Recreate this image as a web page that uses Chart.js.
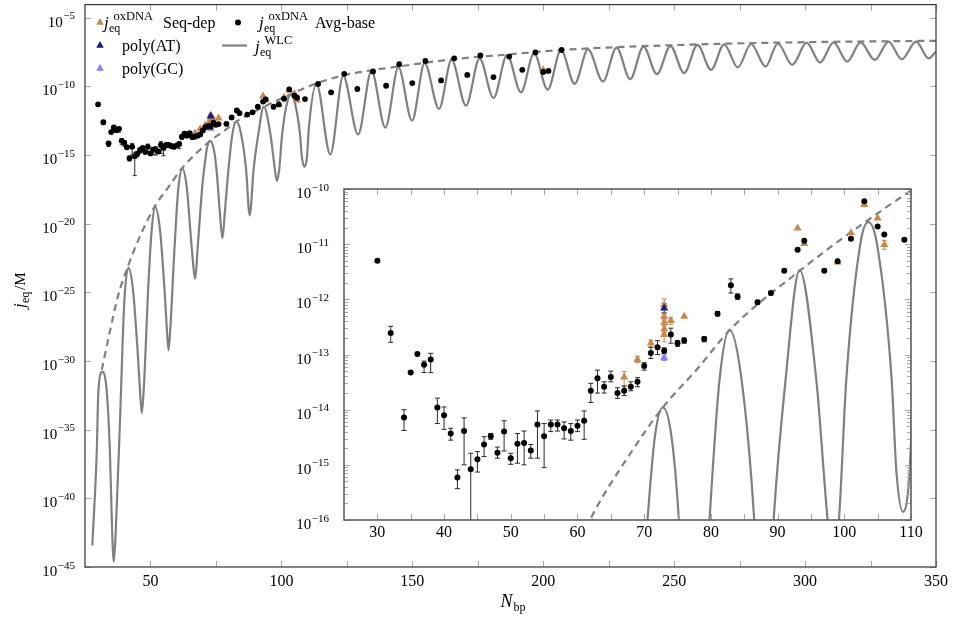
<!DOCTYPE html>
<html>
<head>
<meta charset="utf-8">
<script src="https://cdn.jsdelivr.net/npm/chart.js@4.4.1/dist/chart.umd.min.js"></script>
<style>
  body { margin: 0; background: #fff; }
  #wrap { position: relative; width: 953px; height: 619px; }
  #main { position: absolute; left: 0; top: 0; }
  #inset { position: absolute; left: 285px; top: 180px; }
</style>
</head>
<body>
<div id="wrap">
  <canvas id="main" width="953" height="619"></canvas>
  <canvas id="inset" width="645" height="370"></canvas>
</div>
<script>
// WLC prediction (peaks and troughs)
const wlcN = [27.8, 29.5, 30.1, 31.6, 33.3, 34.5, 35.4, 36.0, 36.7, 38.4, 40.0, 41.6, 43.4, 45.1, 46.1, 46.7, 47.4, 49.2, 50.5, 51.8,
  53.6, 55.5, 56.4, 56.9, 57.6, 59.1, 60.6, 62.2, 63.8, 65.7, 67.1, 68.0, 69.8, 70.5, 71.6, 72.8, 74.1, 75.2, 76.5, 77.5,
  78.4, 79.8, 81.3, 82.8, 84.6, 86.5, 87.9, 89.4, 91.2, 93.3, 95.8, 97.5, 98.3, 99.2, 100.3, 102.4, 103.6, 104.9, 107.1, 107.8,
  108.8, 109.8, 110.5, 113.4, 118.7, 123.6, 129.3, 134.4, 139.7, 144.7, 149.9, 154.7, 160.2, 165.0, 170.5, 175.7, 181.0, 186.2, 191.5, 196.5,
  201.7, 206.8, 212.0, 217.1, 222.8, 228.0, 233.2, 238.3, 243.4, 248.6, 253.8, 258.9, 264.1, 269.1, 274.3, 279.4, 284.9, 289.6, 295.1, 300.6,
  305.7, 310.9, 316.1, 321.2, 326.6, 331.9, 336.9, 342.4, 347.2, 350];
const wlcJ = [3.7e-44, 2.8e-37, 6.3e-33, 1.6e-31, 6.3e-33, 2.8e-37, 2.5e-43, 2.5e-45, 2.5e-43, 7.2e-35, 2.0e-26, 6.3e-24, 1.1e-25, 5.0e-30, 3.6e-33, 1.6e-34, 6.3e-33, 3.3e-25, 4.2e-21, 1.6e-19,
  4.2e-21, 6.3e-26, 7.9e-29, 6.3e-30, 2.5e-28, 8.5e-23, 3.2e-18, 1.0e-16, 5.8e-18, 2.6e-22, 1.0e-24, 1.5e-22, 5.8e-18, 1.0e-16, 3.2e-15, 1.1e-14, 3.2e-15, 1.0e-16, 6.8e-20, 8.9e-22,
  6.8e-20, 1.0e-16, 3.5e-14, 2.8e-13, 3.5e-14, 1.0e-16, 4.0e-20, 1.0e-16, 3.5e-14, 3.4e-12, 3.5e-14, 1.0e-16, 1.3e-17, 1.0e-16, 3.5e-14, 1.0e-11, 2.5e-11, 1.0e-11, 3.5e-14, 7.9e-16,
  1.4e-16, 7.9e-16, 1.0e-13, 1.5e-10, 1.1e-15, 5.9e-10, 3.2e-14, 1.35e-9, 1.0e-13, 2.4e-9, 3.2e-13, 4.9e-9, 2.3e-12, 8.5e-9, 4.0e-12, 1.1e-8, 1.45e-11, 1.95e-8, 3.7e-11, 2.6e-8,
  5.8e-11, 4.5e-8, 1.55e-10, 5.0e-8, 2.3e-10, 6.8e-8, 3.4e-10, 7.9e-8, 7.8e-10, 8.7e-8, 9.3e-10, 1.05e-7, 1.6e-9, 1.17e-7, 2.4e-9, 1.23e-7, 2.8e-9, 1.38e-7, 3.7e-9, 1.55e-7,
  5.5e-9, 1.62e-7, 6.5e-9, 1.62e-7, 8.5e-9, 1.82e-7, 9.5e-9, 1.82e-7, 1.1e-8, 3.5e-8];

// dashed envelope
const envN = [31.4, 34.5, 37.7, 41.6, 45.3, 51.8, 56.8, 62.2, 67.6, 72.8, 77.8, 83.1, 93.6, 103.1, 113.4, 123.6, 134.4, 144.7, 165, 186.2,
  206.8, 228, 248.6, 269.1, 289.6, 310.9, 331.9, 350];
const envJ = [2.3e-31, 1.4e-28, 6.3e-26, 1.0e-23, 6.0e-22, 2.0e-19, 4.4e-18, 1.2e-16, 1.4e-15, 1.1e-14, 5.2e-14, 3.0e-13, 3.5e-12, 2.5e-11, 1.66e-10, 6.3e-10, 1.5e-9, 2.8e-9, 9.3e-9, 2.1e-8,
  4.5e-8, 7.2e-8, 1.0e-7, 1.29e-7, 1.55e-7, 1.78e-7, 1.95e-7, 2.1e-7];

// oxDNA average-base
const avgN = [30, 32, 34, 35, 36, 37, 38, 39, 40, 41, 42, 43, 44, 45, 46, 47, 48, 49, 50, 51,
  52, 53, 54, 55, 56, 57, 58, 59, 60, 61, 62, 63, 64, 65, 66, 67, 68, 69, 70, 71,
  72, 73, 74, 75, 76, 79, 81, 83, 84, 87, 89, 91, 93, 94, 97, 99, 101, 103, 105, 106,
  109, 114, 119, 124, 129, 135, 140, 145, 150, 155, 161, 166, 171, 176, 181, 187, 192, 197, 200, 202, 207];
const avgJ = [5.0e-12, 2.45e-13, 7.2e-15, 4.7e-14, 1.02e-13, 6.5e-14, 8.1e-14, 1.1e-14, 7.9e-15, 3.7e-15, 5.9e-16, 4.1e-15, 8.3e-16, 1.26e-15, 2.34e-15, 3.3e-15, 1.66e-15, 4.0e-15, 1.32e-15, 2.4e-15,
  2.5e-15, 1.82e-15, 5.4e-15, 3.3e-15, 5.4e-15, 5.4e-15, 4.6e-15, 4.1e-15, 5.1e-15, 6.3e-15, 2.2e-14, 3.7e-14, 2.6e-14, 3.9e-14, 2.0e-14, 2.2e-14, 2.6e-14, 3.2e-14, 6.2e-14, 1.07e-13,
  1.35e-13, 1.17e-13, 2.3e-13, 1.6e-13, 1.8e-13, 1.9e-13, 5.5e-13, 1.8e-12, 1.12e-12, 8.9e-13, 1.3e-12, 3.3e-12, 7.9e-12, 1.15e-11, 3.3e-12, 4.9e-12, 1.26e-11, 6.0e-11, 2.1e-11, 1.5e-11,
  1.2e-11, 1.5e-10, 3.7e-11, 8.3e-10, 6.5e-11, 1.23e-9, 1.12e-10, 4.2e-9, 1.74e-10, 7.2e-9, 2.75e-10, 1.12e-8, 6.9e-10, 1.78e-8, 4.8e-10, 1.5e-8, 1.62e-9, 2.95e-8, 1.12e-9, 1.35e-9, 4.5e-8];
const avgLo = [null, 1.66e-13, 4.2e-15, null, null, 4.7e-14, 4.7e-14, 5.6e-15, 4.4e-15, 2.8e-15, 3.7e-16, 1.0e-15, 3.2e-17, 7.4e-16, 1.41e-15, 2.9e-15, 1.32e-15, 1.78e-15, 1.02e-15, 1.07e-15,
  1.0e-15, 1.32e-15, 1.32e-15, 8.9e-16, 4.0e-15, 4.1e-15, 2.95e-15, 2.8e-15, 4.0e-15, 2.9e-15, 1.35e-14, 2.0e-14, 2.0e-14, 3.2e-14, 1.6e-14, 1.8e-14, 2.2e-14, 2.6e-14, 5.2e-14, 8.5e-14,
  1.0e-13, 1.05e-13, 1.6e-13, 1.4e-13, 1.6e-13, 1.7e-13, 5.0e-13, 1.3e-12, 1.0e-12, 8.2e-13, 1.2e-12];
const avgHi = [null, 3.24e-13, 1.0e-14, null, null, 7.6e-14, 1.05e-13, 1.62e-14, 1.12e-14, 4.6e-15, 8.1e-16, 7.1e-15, 1.62e-15, 1.74e-15, 3.24e-15, 3.7e-15, 2.1e-15, 6.3e-15, 1.62e-15, 3.7e-15,
  4.1e-15, 2.34e-15, 9.5e-15, 5.6e-15, 6.5e-15, 6.5e-15, 6.0e-15, 5.6e-15, 6.5e-15, 9.5e-15, 3.0e-14, 5.2e-14, 3.2e-14, 5.0e-14, 2.5e-14, 2.7e-14, 3.2e-14, 3.8e-14, 7.1e-14, 1.35e-13,
  1.78e-13, 1.32e-13, 3.0e-13, 1.8e-13, 2.0e-13, 2.1e-13, 6.0e-13, 2.35e-12, 1.25e-12, 9.6e-13, 1.4e-12];

// oxDNA sequence-dependent
const seqN = [67, 69, 71, 73, 73, 73, 73, 73, 74, 76, 93, 94, 99, 101, 103, 105, 106, 200];
const seqJ = [3.9e-14, 8.1e-14, 1.6e-13, 7.9e-13, 4.9e-13, 3.8e-13, 2.9e-13, 2.3e-13, 4.1e-13, 4.9e-13, 1.95e-11, 1.02e-11, 4.7e-12, 1.6e-11, 5.2e-11, 2.95e-11, 9.8e-12, 1.6e-9];
const seqLo = [2.6e-14, 7.1e-14, 1.38e-13, 6.8e-13, 4.2e-13, 3.3e-13, 2.5e-13, 1.7e-13, 3.5e-13, null, null, null, null, null, null, null, 8.1e-12, null];
const seqHi = [4.9e-14, 9.3e-14, 1.82e-13, 1.02e-12, 5.8e-13, 4.4e-13, 3.4e-13, 2.7e-13, 4.7e-13, null, null, null, null, null, null, null, 1.17e-11, null];

const atN = [73];
const atJ = [6.9e-13];
const atLo = [5.6e-13];
const atHi = [8.3e-13];
const gcN = [73];
const gcJ = [8.7e-14];
const gcLo = [7.8e-14];
const gcHi = [9.8e-14];

const xMainTicks = [50, 100, 150, 200, 250, 300, 350];
const xMainMinor = [75, 125, 175, 225, 275, 325];
const yMainTicks = [1e-45, 1e-40, 1e-35, 1e-30, 1e-25, 1e-20, 1e-15, 1e-10, 1e-5];
const xInsetTicks = [30, 40, 50, 60, 70, 80, 90, 100, 110];
const xInsetMinor = [35, 45, 55, 65, 75, 85, 95, 105];
const yInsetTicks = [1e-16, 1e-15, 1e-14, 1e-13, 1e-12, 1e-11, 1e-10];

const colors = {
  avg: '#000000',
  seq: '#c8884b',
  at: '#1c1c8a',
  gc: '#8080ff',
  wlc: '#808080',
  bar: '#2a2a2a',
};
const fam = '"Liberation Serif", "DejaVu Serif", serif';

const pts = (xs, ys) => xs.map((x, i) => ({ x, y: ys[i] }));
const bars = (xs, lo, hi, color) => xs
  .map((x, i) => ({ x, lo: lo[i], hi: hi[i], color }))
  .filter(b => b.lo != null && b.hi != null);

const errorBars = [
  ...bars(seqN, seqLo, seqHi, colors.seq),
  ...bars(avgN, avgLo, avgHi, colors.bar),
  ...bars(gcN, gcLo, gcHi, colors.gc),
  ...bars(atN, atLo, atHi, colors.at),
];

const powLabel = (ctx, v, xr, py, big, small) => {
  const e = '\u2212' + Math.round(-Math.log10(v));
  ctx.textBaseline = 'alphabetic';
  ctx.textAlign = 'left';
  ctx.font = `${small}px ${fam}`;
  const we = ctx.measureText(e).width;
  ctx.fillText(e, xr - we, py + 1.5);
  ctx.textAlign = 'right';
  ctx.font = `${big}px ${fam}`;
  ctx.fillText('10', xr - we - 0.5, py + 9);
};

const drawJ = (ctx, x, base, sup) => {
  ctx.textAlign = 'left';
  ctx.textBaseline = 'alphabetic';
  ctx.font = `italic 17px ${fam}`;
  ctx.fillText('j', x, base);
  ctx.font = `12px ${fam}`;
  ctx.fillText('eq', x + 5, base + 4);
  ctx.font = `12.5px ${fam}`;
  ctx.fillText(sup, x + 9.5, base - 8);
};

const triangle = (ctx, x, y, r, color) => {
  ctx.fillStyle = color;
  ctx.beginPath();
  ctx.moveTo(x, y - r);
  ctx.lineTo(x + r * 0.866, y + r * 0.5);
  ctx.lineTo(x - r * 0.866, y + r * 0.5);
  ctx.closePath();
  ctx.fill();
};

const pgfAxes = {
  id: 'pgfAxes',
  beforeDraw(chart) {
    const { ctx } = chart;
    ctx.save();
    ctx.fillStyle = '#fff';
    ctx.fillRect(0, 0, chart.width, chart.height);
    ctx.restore();
  },
  beforeDatasetsDraw(chart, args, o) {
    const { ctx, chartArea: a, scales: { x, y } } = chart;
    ctx.save();
    ctx.beginPath();
    ctx.rect(a.left, a.top, a.right - a.left, a.bottom - a.top);
    ctx.clip();
    ctx.lineWidth = 1;
    errorBars.forEach(b => {
      const px = x.getPixelForValue(b.x);
      const y0 = y.getPixelForValue(b.lo);
      const y1 = y.getPixelForValue(b.hi);
      ctx.strokeStyle = b.color;
      ctx.beginPath();
      ctx.moveTo(px, y0); ctx.lineTo(px, y1);
      ctx.moveTo(px - o.cap, y0); ctx.lineTo(px + o.cap, y0);
      ctx.moveTo(px - o.cap, y1); ctx.lineTo(px + o.cap, y1);
      ctx.stroke();
    });
    ctx.restore();
  },
  afterDraw(chart, args, o) {
    const { ctx, chartArea: a, scales: { x, y } } = chart;
    ctx.save();
    // inward ticks on all four sides
    ctx.strokeStyle = '#a8a8a8';
    ctx.lineWidth = 1;
    ctx.beginPath();
    const xt = (v, len) => {
      const px = Math.round(x.getPixelForValue(v)) + 0.5;
      ctx.moveTo(px, a.bottom); ctx.lineTo(px, a.bottom - len);
      ctx.moveTo(px, a.top); ctx.lineTo(px, a.top + len);
    };
    const yt = (v, len) => {
      const py = Math.round(y.getPixelForValue(v)) + 0.5;
      ctx.moveTo(a.left, py); ctx.lineTo(a.left + len, py);
      ctx.moveTo(a.right, py); ctx.lineTo(a.right - len, py);
    };
    o.xTicks.forEach(v => xt(v, 6));
    o.xMinor.forEach(v => xt(v, 6));
    o.yTicks.forEach(v => yt(v, 6));
    o.yMinor.forEach(v => yt(v, 4));
    ctx.stroke();

    ctx.strokeStyle = o.frame;
    ctx.lineWidth = o.frameWidth;
    ctx.strokeRect(a.left, a.top, a.right - a.left, a.bottom - a.top);

    ctx.fillStyle = '#000';
    ctx.font = `16px ${fam}`;
    ctx.textAlign = 'center';
    ctx.textBaseline = 'middle';
    o.xTicks.forEach(v => ctx.fillText(String(v), x.getPixelForValue(v), a.bottom + o.xLabelGap));
    o.yTicks.forEach(v => powLabel(ctx, v, a.left - o.yLabelGap, y.getPixelForValue(v), 15, 11));

    if (o.titles) {
      ctx.textAlign = 'left';
      ctx.textBaseline = 'alphabetic';
      const cx = (a.left + a.right) / 2 - 12;
      ctx.font = `italic 18px ${fam}`;
      ctx.fillText('N', cx + 2, 607);
      ctx.font = `12px ${fam}`;
      ctx.fillText('bp', cx + 15, 611);

      ctx.translate(25, 288);
      ctx.rotate(-Math.PI / 2);
      ctx.font = `italic 17px ${fam}`;
      ctx.fillText('j', -20, 0);
      ctx.font = `12px ${fam}`;
      ctx.fillText('eq', -15, 4);
      ctx.font = `15px ${fam}`;
      ctx.fillText('/M', -2, 0);
      ctx.setTransform(1, 0, 0, 1, 0, 0);
    }

    if (o.legend) {
      triangle(ctx, 100, 22.5, 4.4, colors.seq);
      triangle(ctx, 100, 45.5, 4.4, colors.at);
      triangle(ctx, 100, 68.5, 4.4, colors.gc);
      ctx.fillStyle = '#000';
      ctx.beginPath();
      ctx.arc(238, 22.5, 3, 0, Math.PI * 2);
      ctx.fill();
      ctx.strokeStyle = colors.wlc;
      ctx.lineWidth = 2.2;
      ctx.beginPath();
      ctx.moveTo(222, 45.5); ctx.lineTo(247, 45.5);
      ctx.stroke();

      ctx.fillStyle = '#000';
      drawJ(ctx, 104, 27.5, 'oxDNA');
      drawJ(ctx, 259, 27.5, 'oxDNA');
      drawJ(ctx, 255, 51.5, 'WLC');
      ctx.font = `16px ${fam}`;
      ctx.fillText('Seq-dep', 163, 27.5);
      ctx.fillText('Avg-base', 315, 28);
      ctx.fillText('poly(AT)', 122, 51);
      ctx.fillText('poly(GC)', 122, 74);
    }
    ctx.restore();
  },
};

const makeDatasets = (r) => [
  {
    data: pts(avgN, avgJ), showLine: false, pointStyle: 'circle', pointRadius: r,
    backgroundColor: colors.avg, borderColor: colors.avg, borderWidth: 0, clip: 0,
  },
  {
    data: pts(atN, atJ), showLine: false, pointStyle: 'triangle', pointRadius: r + 1.7,
    backgroundColor: colors.at, borderColor: colors.at, borderWidth: 0, clip: 0,
  },
  {
    data: pts(gcN, gcJ), showLine: false, pointStyle: 'triangle', pointRadius: r + 1.7,
    backgroundColor: colors.gc, borderColor: colors.gc, borderWidth: 0, clip: 0,
  },
  {
    data: pts(seqN, seqJ), showLine: false, pointStyle: 'triangle', pointRadius: r + 1.7,
    backgroundColor: colors.seq, borderColor: colors.seq, borderWidth: 0, clip: 0,
  },
  {
    data: pts(envN, envJ), showLine: true, pointRadius: 0, borderColor: colors.wlc, borderWidth: 2.2,
    borderDash: [7, 5], cubicInterpolationMode: 'monotone', fill: false, clip: 0,
  },
  {
    data: pts(wlcN, wlcJ), showLine: true, pointRadius: 0, borderColor: colors.wlc, borderWidth: 2.2,
    cubicInterpolationMode: 'monotone', fill: false, clip: 0,
  },
];

const baseOptions = {
  responsive: false,
  animation: false,
  events: [],
  plugins: { legend: { display: false }, tooltip: { enabled: false } },
};

// Main chart
(() => {
  new Chart(document.getElementById('main'), {
    type: 'scatter',
    data: { datasets: makeDatasets(2.9) },
    options: {
      ...baseOptions,
      layout: { padding: { left: 85, top: 1, right: 17, bottom: 52 } },
      scales: {
        x: { type: 'linear', display: false, min: 25, max: 350 },
        y: { type: 'logarithmic', display: false, min: 1e-45, max: 9.1e-5 },
      },
      plugins: {
        ...baseOptions.plugins,
        pgfAxes: {
          xTicks: xMainTicks, xMinor: xMainMinor, yTicks: yMainTicks, yMinor: [],
          frame: '#333', frameWidth: 1.2, cap: 2, xLabelGap: 14.5, yLabelGap: 10,
          titles: true, legend: true,
        },
      },
    },
    plugins: [pgfAxes],
  });
})();

// Inset
(() => {
  const yMinor = [];
  yInsetTicks.slice(0, -1).forEach(d => {
    for (let k = 2; k <= 9; k++) yMinor.push(d * k);
  });
  new Chart(document.getElementById('inset'), {
    type: 'scatter',
    data: { datasets: makeDatasets(3) },
    options: {
      ...baseOptions,
      layout: { padding: { left: 59, top: 9, right: 19, bottom: 30 } },
      scales: {
        x: { type: 'linear', display: false, min: 25, max: 110 },
        y: { type: 'logarithmic', display: false, min: 1e-16, max: 1e-10 },
      },
      plugins: {
        ...baseOptions.plugins,
        pgfAxes: {
          xTicks: xInsetTicks, xMinor: xInsetMinor, yTicks: yInsetTicks, yMinor: yMinor,
          frame: '#555', frameWidth: 1.5, cap: 2.5, xLabelGap: 12.5, yLabelGap: 15,
          titles: false, legend: false,
        },
      },
    },
    plugins: [pgfAxes],
  });
})();
</script>
</body>
</html>
